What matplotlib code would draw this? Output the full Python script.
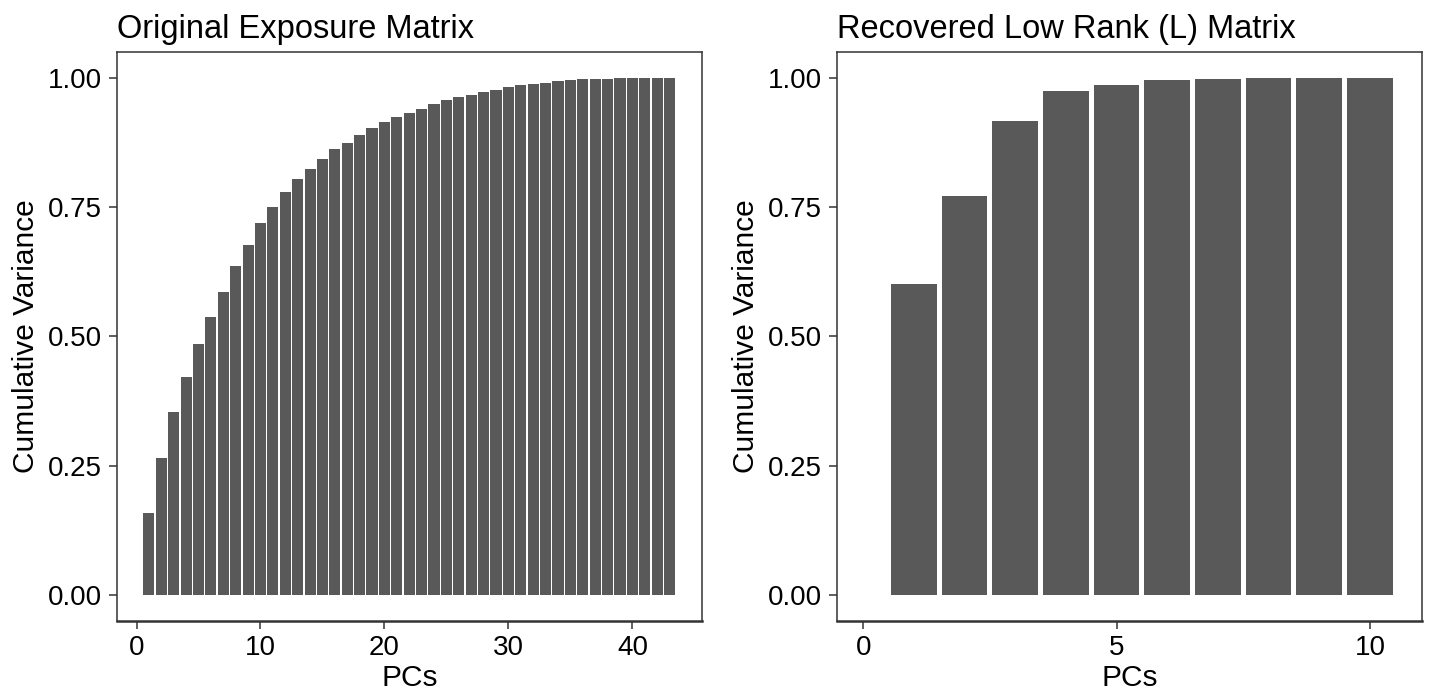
import matplotlib
matplotlib.use("Agg")
import matplotlib.pyplot as plt
import numpy as np

plt.rcParams['font.family'] = ['Liberation Sans', 'DejaVu Sans']

# cumulative variance explained per principal component
orig_pcs = list(range(1, 44))
orig_cumvar = [0.159, 0.264, 0.354, 0.422, 0.485, 0.538, 0.586, 0.635, 0.677, 0.719,
               0.749, 0.779, 0.803, 0.824, 0.842, 0.861, 0.874, 0.889, 0.903, 0.914,
               0.923, 0.932, 0.940, 0.949, 0.956, 0.963, 0.967, 0.972, 0.976, 0.981,
               0.986, 0.988, 0.990, 0.993, 0.995, 0.998, 0.998, 0.998, 0.999, 1.000,
               1.000, 1.000, 1.000]

lr_pcs = list(range(1, 11))
lr_cumvar = [0.601, 0.772, 0.916, 0.974, 0.986, 0.995, 0.998, 1.000, 1.000, 1.000]

bar_col = '#595959'
spine_col = '#333333'

fig = plt.figure(figsize=(14.29, 7.0), dpi=100)
ax1 = fig.add_axes([0.0817, 0.1133, 0.4094, 0.8128])
ax2 = fig.add_axes([0.5855, 0.1133, 0.4095, 0.8128])


def style_axis(ax, title, xticks, xlim):
    ax.set_title(title, loc='left', fontsize=23.5, pad=10)
    ax.set_xlabel('PCs', fontsize=21.5, labelpad=2)
    ax.set_ylabel('Cumulative Variance', fontsize=21.5, labelpad=6)
    ax.set_xlim(*xlim)
    ax.set_ylim(-0.05, 1.05)
    ax.set_xticks(xticks)
    ax.set_yticks([0, 0.25, 0.5, 0.75, 1.0])
    ax.set_yticklabels(['0.00', '0.25', '0.50', '0.75', '1.00'])
    ax.tick_params(axis='both', labelsize=20, length=5.5, width=1.1,
                   color=spine_col, labelcolor='black', pad=5)
    for s in ax.spines.values():
        s.set_color(spine_col)
        s.set_linewidth(1.1)
    ax.spines['bottom'].set_linewidth(1.8)


ax1.bar(orig_pcs, orig_cumvar, width=0.9, color=bar_col, linewidth=0)
style_axis(ax1, 'Original Exposure Matrix', [0, 10, 20, 30, 40],
           (0.55 - 0.05 * 42.9, 43.45 + 0.05 * 42.9))

ax2.bar(lr_pcs, lr_cumvar, width=0.9, color=bar_col, linewidth=0)
style_axis(ax2, 'Recovered Low Rank (L) Matrix', [0, 5, 10],
           (-0.525, 11.025))

fig.savefig('out.png', dpi=100)
